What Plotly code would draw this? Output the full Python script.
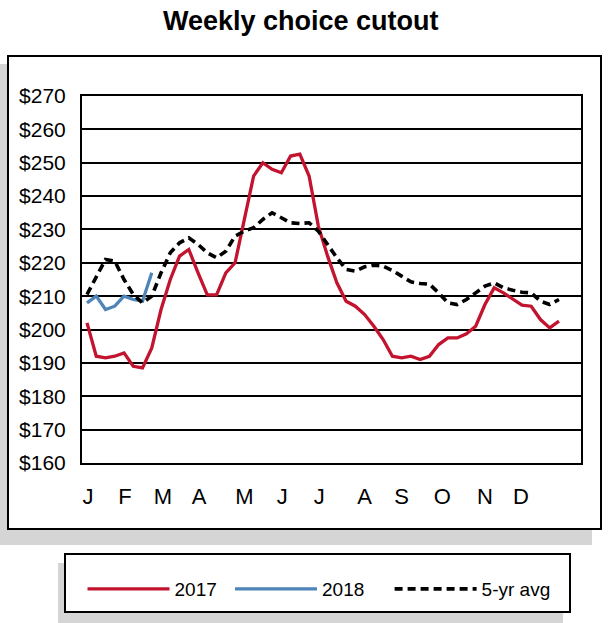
import plotly.graph_objects as go

# ---- data ----
weeks = list(range(1, 53))
v2017 = [202, 192, 191.5, 192, 193, 189, 188.5, 194.5, 206, 215, 222, 224, 217, 210.4,
         210.4, 217, 220, 233, 246, 250, 248, 247, 252, 252.6, 246, 231, 222, 214, 208.5,
         207, 204.5, 201, 197, 192, 191.5, 192, 191, 192, 195.5, 197.5, 197.5, 198.7, 201,
         207.5, 212.5, 211, 209, 207.3, 207, 203, 200.5, 202.5]
weeks2018 = list(range(1, 9))
v2018 = [208, 210, 206, 207, 210, 209, 208.5, 217]
avg5 = [210.5, 215.5, 221, 220.5, 215, 210.5, 208, 210, 217, 223, 226, 227.5, 225.5, 223,
        221.5, 223.5, 228, 229.5, 230.5, 233, 235, 233.5, 232, 231.8, 232, 229.5, 225.5,
        221.5, 218, 217.5, 218.8, 219.3, 219, 217.7, 216, 214.3, 213.8, 213.6, 211, 208,
        207.5, 209, 211, 213, 214, 212.5, 211.8, 211.2, 211, 208.5, 207.5, 209]
month_labels = ["J", "F", "M", "A", "M", "J", "J", "A", "S", "O", "N", "D"]
month_pos = [1.1, 5.1, 9.2, 13.1, 18.0, 22.1, 26.1, 31.0, 35.0, 39.4, 44.0, 47.9]

RED = "#C2132F"
BLUE = "#4F84B8"
FONT = "Liberation Sans, Arial, sans-serif"

# plot area in pixels
L, R, T, B = 82, 581, 96, 463
W, H = 610, 623

def px(x):
    return (x - L) / (R - L)

def py(y):
    return (B - y) / (B - T)

fig = go.Figure()
fig.add_trace(go.Scatter(x=weeks, y=v2017, mode="lines", name="2017", legend="legend",
                         line=dict(color=RED, width=3.3)))
fig.add_trace(go.Scatter(x=weeks2018, y=v2018, mode="lines", name="2018", legend="legend2",
                         line=dict(color=BLUE, width=3.3)))
fig.add_trace(go.Scatter(x=weeks, y=avg5, mode="lines", name="5-yr avg", legend="legend3",
                         line=dict(color="black", width=3.6, dash="8px,5px")))

shapes = [
    # outer frame shadow + frame
    dict(type="rect", xref="paper", yref="paper", x0=px(0), x1=px(592), y0=py(64), y1=py(545),
         fillcolor="#d5d5d5", line=dict(width=0), layer="below"),
    dict(type="rect", xref="paper", yref="paper", x0=px(8), x1=px(601), y0=py(56), y1=py(529),
         fillcolor="white", line=dict(color="black", width=2), layer="below"),
    # legend shadow + box
    dict(type="rect", xref="paper", yref="paper", x0=px(58), x1=px(563), y0=py(563), y1=py(623),
         fillcolor="#d5d5d5", line=dict(width=0), layer="below"),
    dict(type="rect", xref="paper", yref="paper", x0=px(65), x1=px(570), y0=py(554), y1=py(612),
         fillcolor="white", line=dict(color="black", width=2), layer="below"),
]

def leg(xpix):
    return dict(orientation="h", x=px(xpix), xanchor="left", y=py(589), yanchor="middle",
                bgcolor="rgba(0,0,0,0)", borderwidth=0, itemwidth=82,
                font=dict(family=FONT, size=19, color="black"))

fig.update_layout(
    width=W, height=H,
    margin=dict(l=L, r=W - R, t=T, b=H - B),
    paper_bgcolor="white", plot_bgcolor="white",
    title=dict(text="<b>Weekly choice cutout</b>", x=0.493, xanchor="center",
               y=1 - 21 / H, yanchor="middle",
               font=dict(family=FONT, size=27, color="black")),
    shapes=shapes,
    showlegend=True,
    legend=leg(82.5),
    legend2=leg(230),
    legend3=leg(389.6),
)
fig.update_xaxes(range=[0.46, 54.38], tickmode="array", tickvals=month_pos, ticktext=month_labels,
                 showgrid=False, zeroline=False, showline=True, mirror=True,
                 linecolor="black", linewidth=2, ticks="", ticklabelstandoff=13,
                 tickfont=dict(family=FONT, size=22, color="black"))
fig.update_yaxes(range=[160, 270], dtick=10, tickprefix="$", showgrid=True,
                 gridcolor="black", gridwidth=2, zeroline=False, showline=True, mirror=True,
                 linecolor="black", linewidth=2, ticks="", ticklabelstandoff=10,
                 tickfont=dict(family=FONT, size=21, color="black"))

fig.write_html("out.html")
